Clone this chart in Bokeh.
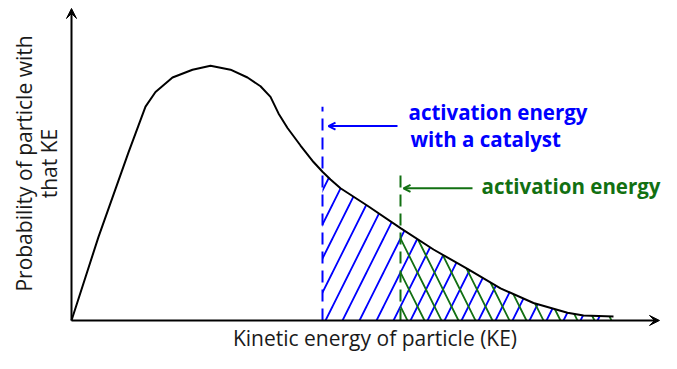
import math
from bokeh.plotting import figure
from bokeh.models import Range1d, Arrow, VeeHead, OpenHead, Label
from bokeh.embed import file_html
from bokeh.resources import INLINE

# Data (arbitrary units)
ke = [0, 27, 57, 74, 84, 101, 121, 139, 159, 176, 189, 199, 207, 216, 229, 242,
      251, 259, 269, 296, 329, 362, 396, 429, 462, 496, 512, 542]
prob = [0, 86, 173, 220, 235, 250, 258, 262, 258, 250, 241, 230, 213, 198, 180, 163,
        153, 145, 136, 118, 95, 73, 53, 33, 18, 8, 5, 4]
ea_catalyst = 251
ea = 329
labels_catalyst = ["activation energy", "with a catalyst"]
label_plain = "activation energy"
x_title = "Kinetic energy of particle (KE)"
y_title_lines = ["Probability of particle with", "that KE"]

BLUE = "#0000ff"
GREEN = "#127012"
FONT = "Open Sans"

p = figure(width=661, height=353, output_backend="svg", toolbar_location=None,
           x_range=Range1d(-71, 590), y_range=Range1d(-34, 329.2),
           x_axis_location=None, y_axis_location=None,
           min_border_left=0, min_border_right=0, min_border_top=0,
           min_border_bottom=0)
p.title.visible = False
p.outline_line_color = None
p.grid.visible = False
p.background_fill_color = "white"

# hatched regions
xc = [x for x in ke if x >= ea_catalyst]
yc = [y for x, y in zip(ke, prob) if x >= ea_catalyst]
xa = [x for x in ke if x >= ea]
ya = [y for x, y in zip(ke, prob) if x >= ea]
p.varea(x=xc, y1=[0] * len(xc), y2=yc, fill_color=None, fill_alpha=0,
        hatch_pattern="/", hatch_color=BLUE, hatch_scale=34, hatch_weight=1.8)
p.varea(x=xa, y1=[0] * len(xa), y2=ya, fill_color=None, fill_alpha=0,
        hatch_pattern="\\", hatch_color=GREEN, hatch_scale=34, hatch_weight=1.8)

# curve
p.line(ke, prob, line_width=2, line_color="black")

# dashed activation energy lines
p.segment(x0=[ea_catalyst], y0=[0], x1=[ea_catalyst], y1=[220],
          line_color=BLUE, line_width=2, line_dash="12 7")
p.segment(x0=[ea], y0=[0], x1=[ea], y1=[150],
          line_color=GREEN, line_width=2, line_dash="12 7")

# axes with arrows
p.add_layout(Arrow(end=VeeHead(size=10, line_color="black", fill_color="black", line_width=1),
                   x_start=0, y_start=0, x_end=588, y_end=0,
                   line_color="black", line_width=2))
p.add_layout(Arrow(end=VeeHead(size=10, line_color="black", fill_color="black", line_width=1),
                   x_start=0, y_start=0, x_end=0, y_end=321,
                   line_color="black", line_width=2))

# label arrows
p.add_layout(Arrow(end=OpenHead(size=7, line_color=BLUE, line_width=2),
                   x_start=326, y_start=200, x_end=257, y_end=200,
                   line_color=BLUE, line_width=2))
p.add_layout(Arrow(end=OpenHead(size=7, line_color=GREEN, line_width=2),
                   x_start=401, y_start=136, x_end=332, y_end=136,
                   line_color=GREEN, line_width=2))

# labels
p.add_layout(Label(x=337, y=214, text=labels_catalyst[0], text_font=FONT,
                   text_font_size="20.5px", text_font_style="bold",
                   text_color=BLUE, text_baseline="alphabetic"))
p.add_layout(Label(x=339, y=187, text=labels_catalyst[1], text_font=FONT,
                   text_font_size="20.5px", text_font_style="bold",
                   text_color=BLUE, text_baseline="alphabetic"))
p.add_layout(Label(x=410, y=138, text=label_plain, text_font=FONT,
                   text_font_size="20.5px", text_font_style="bold",
                   text_color=GREEN, text_baseline="alphabetic"))

# axis titles
p.add_layout(Label(x=303.5, y=-18, text=x_title, text_font=FONT,
                   text_font_size="21px", text_color="#1a1a1a",
                   text_align="center", text_baseline="alphabetic"))
for xpos, line in zip([-48, -23], y_title_lines):
    p.add_layout(Label(x=xpos, y=161.5, text=line, text_font=FONT,
                       text_font_size="21px", text_color="#1a1a1a",
                       text_align="center", text_baseline="middle",
                       angle=math.pi / 2))

open("out.html", "w").write(file_html(p, INLINE))
